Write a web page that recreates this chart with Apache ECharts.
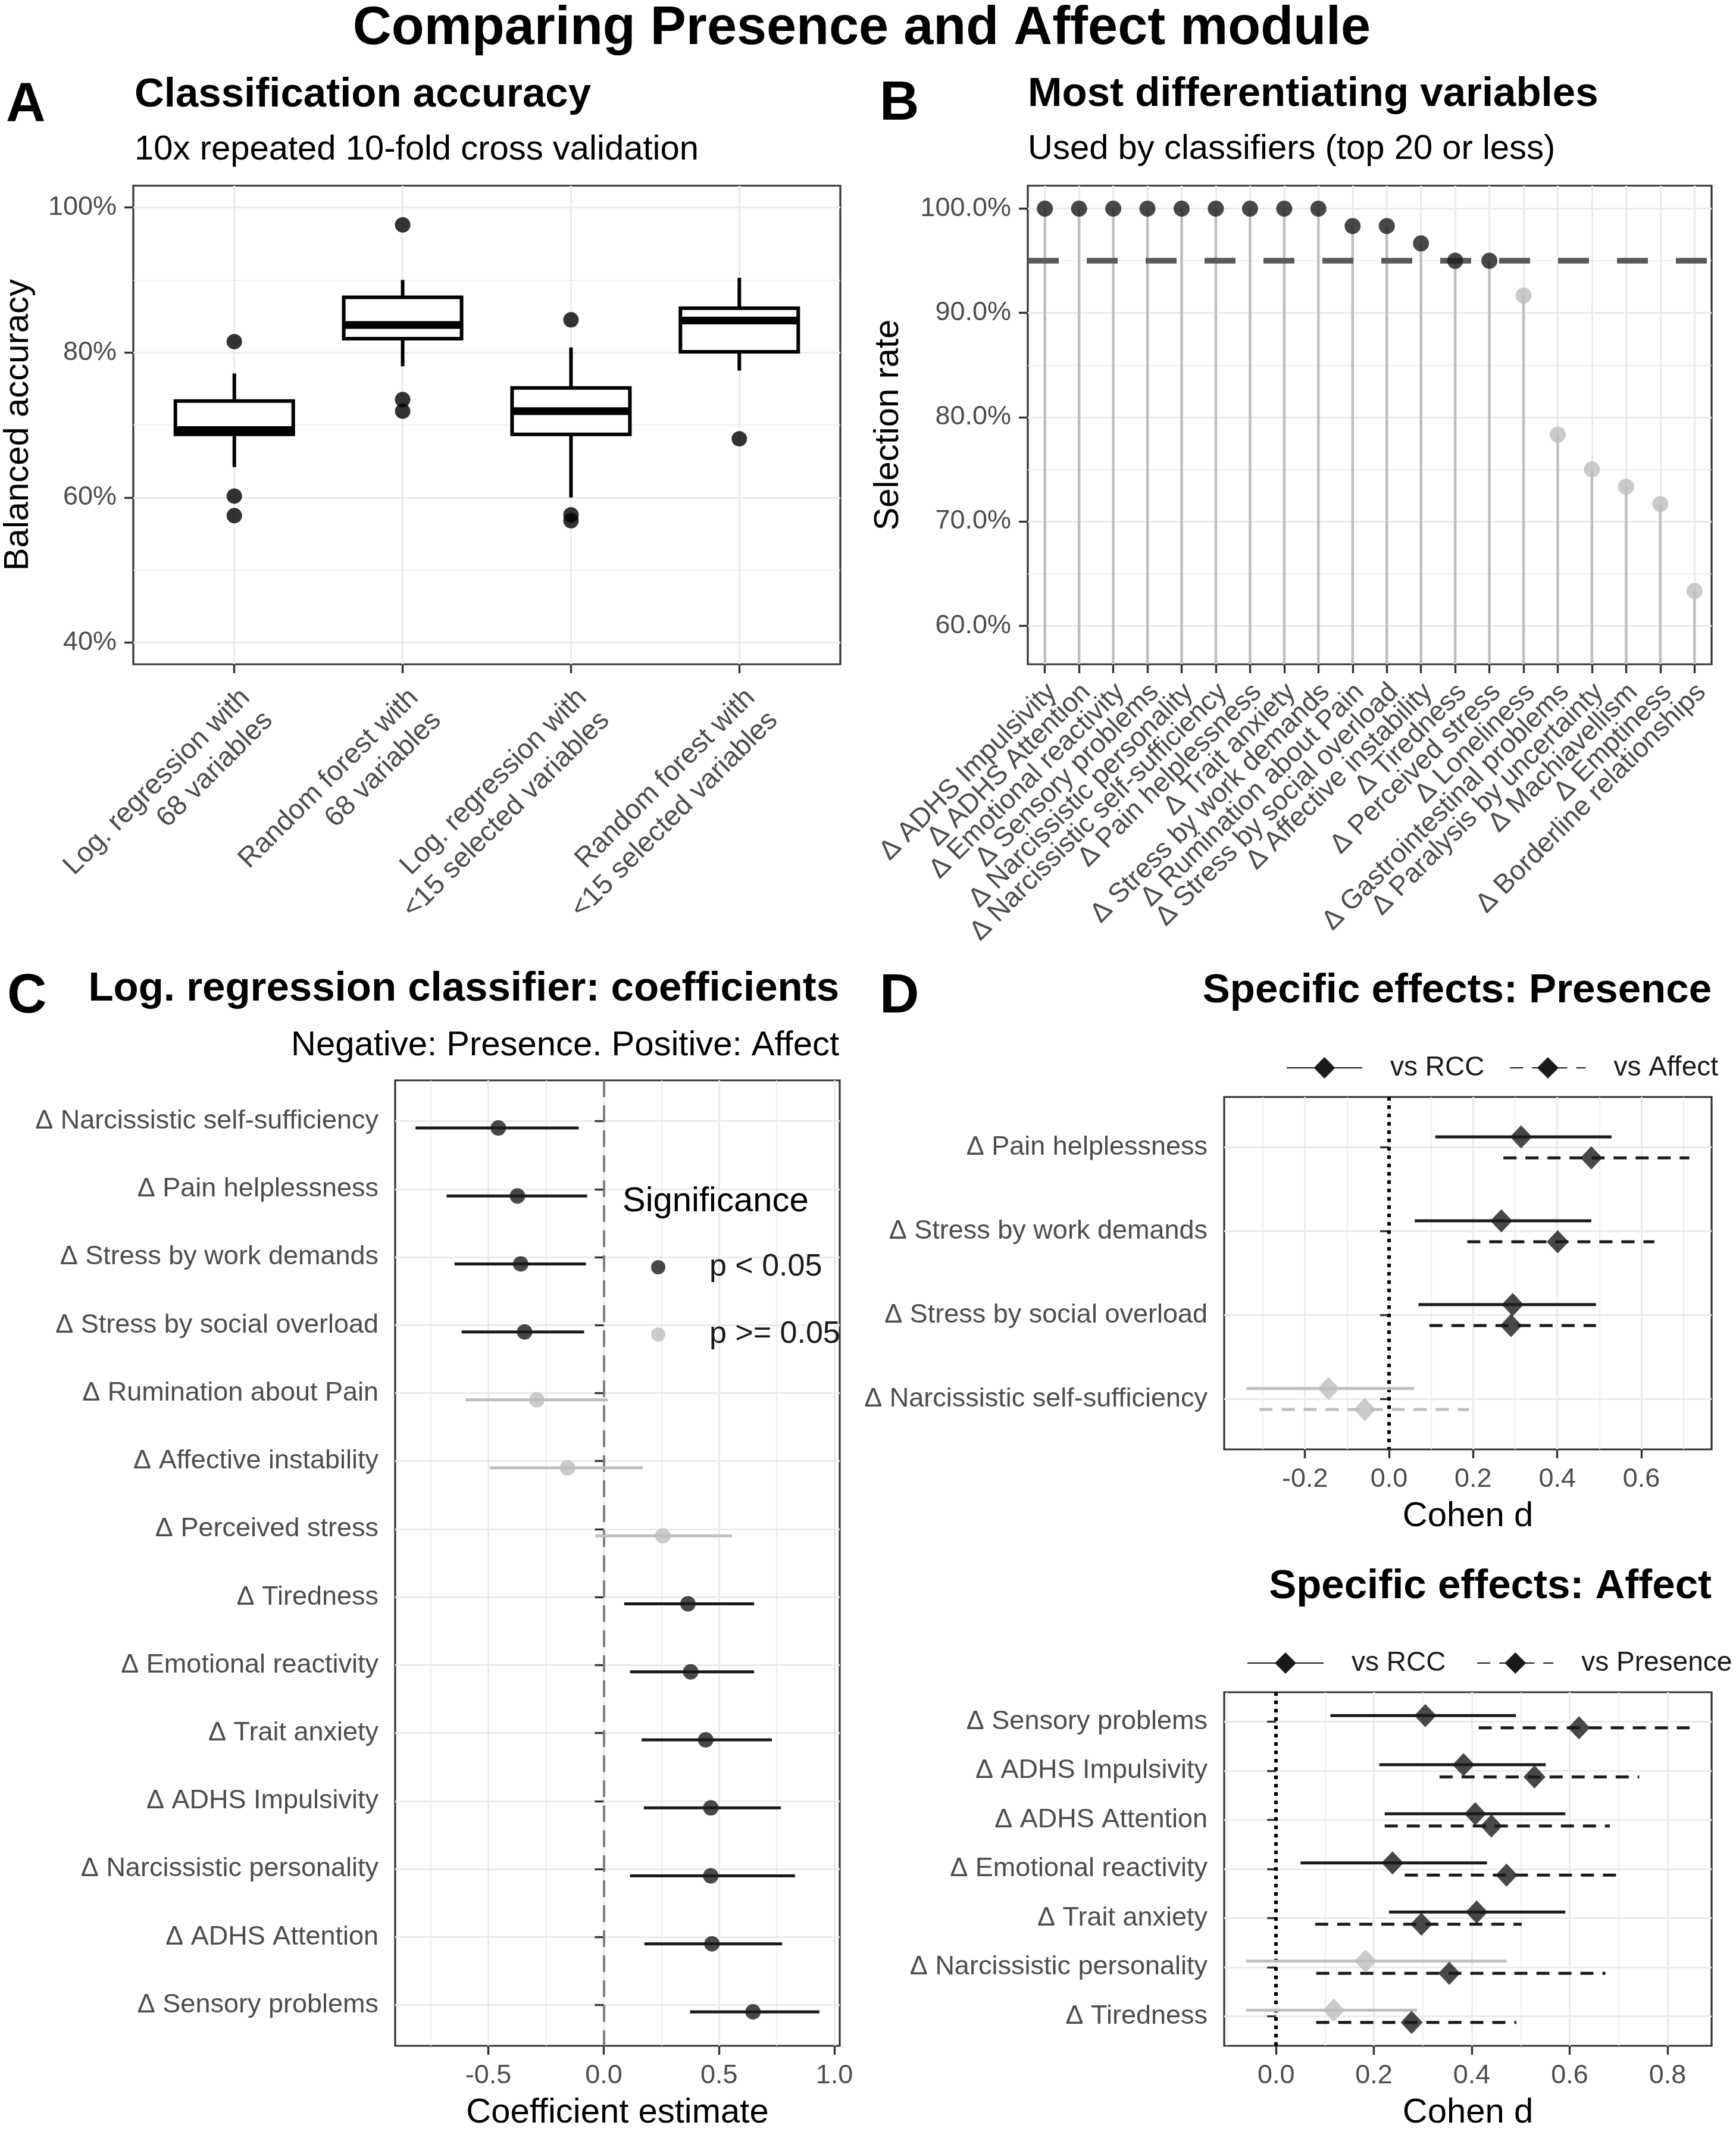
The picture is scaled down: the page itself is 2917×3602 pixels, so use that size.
<!DOCTYPE html>
<html><head><meta charset="utf-8">
<script src="https://cdn.jsdelivr.net/npm/echarts@6/dist/echarts.min.js"></script>
<style>html,body{margin:0;padding:0;background:#fff}#c{width:2917px;height:3602px}</style>
</head><body><div id="c"></div>
<script>
// ---------- Panel A: classification accuracy ----------
const catsA = ['Log. regression with\n68 variables', 'Random forest with\n68 variables',
  'Log. regression with\n<15 selected variables', 'Random forest with\n<15 selected variables'];
// [lower whisker, Q1, median, Q3, upper whisker]
const boxA1 = [64.2, 68.7, 69.3, 73.3, 77.1];
const boxA2 = [78.1, 81.9, 83.8, 87.6, 90.0];
const boxA3 = [60.0, 68.7, 71.9, 75.1, 80.7];
const boxA4 = [77.5, 80.1, 84.4, 86.1, 90.3];
// outliers: [category number, value]
const outliersA = [[1, 81.5], [1, 60.2], [1, 57.5], [2, 97.6], [2, 73.5], [2, 71.9],
  [3, 84.5], [3, 57.6], [3, 56.8], [4, 68.1]];
const ticksA = [40, 60, 80, 100];
const minorA = [50, 70, 90];

// ---------- Panel B: selection rate ----------
const catsB = ['Δ ADHS Impulsivity', 'Δ ADHS Attention', 'Δ Emotional reactivity', 'Δ Sensory problems',
  'Δ Narcissistic personality', 'Δ Narcissistic self-sufficiency', 'Δ Pain helplessness', 'Δ Trait anxiety',
  'Δ Stress by work demands', 'Δ Rumination about Pain', 'Δ Stress by social overload', 'Δ Affective instability',
  'Δ Tiredness', 'Δ Perceived stress', 'Δ Loneliness', 'Δ Gastrointestinal problems',
  'Δ Paralysis by uncertainty', 'Δ Machiavellism', 'Δ Emptiness', 'Δ Borderline relationships'];
const rateB = [100, 100, 100, 100, 100, 100, 100, 100, 100, 98.33, 98.33, 96.67, 95, 95,
  91.67, 78.33, 75, 73.33, 71.67, 63.33];
const thresholdB = 95;
const ticksB = [60, 70, 80, 90, 100];
const minorB = [65, 75, 85, 95];

// ---------- Panel C: logistic regression coefficients ----------
const catsC = ['Δ Narcissistic self-sufficiency', 'Δ Pain helplessness', 'Δ Stress by work demands',
  'Δ Stress by social overload', 'Δ Rumination about Pain', 'Δ Affective instability', 'Δ Perceived stress',
  'Δ Tiredness', 'Δ Emotional reactivity', 'Δ Trait anxiety', 'Δ ADHS Impulsivity',
  'Δ Narcissistic personality', 'Δ ADHS Attention', 'Δ Sensory problems'];
const estC  = [-0.457, -0.374, -0.360, -0.343, -0.290, -0.157, 0.256, 0.365, 0.377, 0.442, 0.464, 0.464, 0.469, 0.647];
const lowC  = [-0.816, -0.681, -0.647, -0.616, -0.599, -0.493, -0.036, 0.089, 0.114, 0.164, 0.174, 0.114, 0.176, 0.374];
const highC = [-0.109, -0.072, -0.077, -0.085, 0.017, 0.169, 0.556, 0.652, 0.652, 0.729, 0.768, 0.829, 0.773, 0.935];
const sigC  = [1, 1, 1, 1, 0, 0, 0, 1, 1, 1, 1, 1, 1, 1];
const ticksC = [-0.5, 0, 0.5, 1.0];
const minorC = [-0.75, -0.25, 0.25, 0.75];

// ---------- Panel D (top): specific effects Presence ----------
const catsD1 = ['Δ Pain helplessness', 'Δ Stress by work demands', 'Δ Stress by social overload', 'Δ Narcissistic self-sufficiency'];
const rccEstD1  = [0.314, 0.267, 0.294, -0.144];
const rccLowD1  = [0.110, 0.061, 0.070, -0.339];
const rccHighD1 = [0.529, 0.481, 0.492, 0.060];
const rccSigD1  = [1, 1, 1, 0];
const affEstD1  = [0.481, 0.401, 0.290, -0.058];
const affLowD1  = [0.272, 0.186, 0.096, -0.308];
const affHighD1 = [0.714, 0.631, 0.492, 0.190];
const affSigD1  = [1, 1, 1, 0];
const ticksD1 = [-0.2, 0, 0.2, 0.4, 0.6];
const minorD1 = [-0.3, -0.1, 0.1, 0.3, 0.5, 0.7];

// ---------- Panel D (bottom): specific effects Affect ----------
const catsD2 = ['Δ Sensory problems', 'Δ ADHS Impulsivity', 'Δ ADHS Attention', 'Δ Emotional reactivity',
  'Δ Trait anxiety', 'Δ Narcissistic personality', 'Δ Tiredness'];
const rccEstD2   = [0.305, 0.383, 0.407, 0.238, 0.410, 0.183, 0.118];
const rccLowD2   = [0.111, 0.211, 0.222, 0.050, 0.231, -0.061, -0.061];
const rccHighD2  = [0.490, 0.551, 0.591, 0.431, 0.591, 0.471, 0.288];
const rccSigD2   = [1, 1, 1, 1, 1, 0, 0];
const presEstD2  = [0.619, 0.528, 0.440, 0.471, 0.297, 0.354, 0.277];
const presLowD2  = [0.414, 0.334, 0.222, 0.263, 0.080, 0.082, 0.082];
const presHighD2 = [0.845, 0.742, 0.682, 0.696, 0.502, 0.673, 0.491];
const presSigD2  = [1, 1, 1, 1, 1, 1, 1];
const ticksD2 = [0, 0.2, 0.4, 0.6, 0.8];
const minorD2 = [-0.1, 0.1, 0.3, 0.5, 0.7];

// ---------- styling ----------
const FONT = '"Liberation Sans", Arial, Helvetica, sans-serif';
const DARK = '#1a1a1a', GRAY = '#bebebe';
const GRID_MAJOR = {color: '#ebebeb', width: 3};
const GRID_MINOR = {color: '#ebebeb', width: 1.6};
const TICK = {show: true, length: 15, lineStyle: {color: '#333333', width: 3.4}};
const LABEL = {color: '#4d4d4d', fontSize: 45, fontFamily: FONT};
const NAME = {color: '#000', fontSize: 58, fontFamily: FONT};
const range = n => Array.from({length: n}, (_, i) => i + 1);

function majorAxis(gridIndex, min, max, ticks, fmt, extra) {
  return Object.assign({
    type: 'value', gridIndex, min, max,
    axisLine: {show: false},
    axisTick: Object.assign({customValues: ticks}, TICK),
    axisLabel: Object.assign({customValues: ticks, formatter: fmt, margin: 28, showMinLabel: true, showMaxLabel: true}, LABEL),
    splitLine: {show: true, lineStyle: GRID_MAJOR},
    minorSplitLine: {show: false}
  }, extra || {});
}
function minorAxis(gridIndex, min, max, ticks, style) {
  return {
    type: 'value', gridIndex, min, max,
    axisLine: {show: false},
    axisTick: {show: false, customValues: ticks},
    axisLabel: {show: false},
    splitLine: {show: true, lineStyle: style || GRID_MINOR}
  };
}
const gridStyle = {show: true, borderColor: '#333333', borderWidth: 3.2, backgroundColor: 'transparent', containLabel: false};

function errRender(dash, lw) {
  return function (params, api) {
    const y = api.value(2);
    const a = api.coord([api.value(0), y]);
    const b = api.coord([api.value(1), y]);
    return {type: 'line', shape: {x1: a[0], y1: a[1], x2: b[0], y2: b[1]},
      style: {stroke: api.value(3) ? DARK : GRAY, lineWidth: lw, lineDash: dash}};
  };
}
function errData(low, high, offset, sig) {
  return low.map((v, i) => [v, high[i], i + 1 + offset, sig[i]]);
}
function ptData(est, offset) { return est.map((v, i) => [v, i + 1 + offset]); }

const boxesA = [boxA1, boxA2, boxA3, boxA4];
const DASH_D = [22, 15];

const option = {
  animation: false,
  backgroundColor: '#fff',
  textStyle: {fontFamily: FONT},
  grid: [
    Object.assign({left: 224, top: 312, width: 1188, height: 804}, gridStyle),   // A
    Object.assign({left: 1727, top: 312, width: 1149, height: 804}, gridStyle),  // B
    Object.assign({left: 664, top: 1815, width: 747, height: 1622}, gridStyle),  // C
    Object.assign({left: 2057, top: 1843, width: 819, height: 592}, gridStyle),  // D top
    Object.assign({left: 2057, top: 2843, width: 819, height: 594}, gridStyle)   // D bottom
  ],
  xAxis: [
    majorAxis(0, 0.4, 4.6, range(4), null,
      {axisLabel: Object.assign({customValues: range(4), formatter: v => catsA[Math.round(v) - 1], rotate: 45,
        margin: 30, lineHeight: 54, align: 'right', verticalAlign: 'top', showMinLabel: true, showMaxLabel: true}, LABEL, {fontSize: 47})}),
    // B: category axis carries the labels and ticks (all labels forced)
    {type: 'category', gridIndex: 1, data: catsB, boundaryGap: true,
      axisLine: {show: false},
      axisTick: Object.assign({alignWithLabel: true, interval: 0}, TICK),
      axisLabel: Object.assign({interval: 0, rotate: 45, margin: 28, lineHeight: 34, align: 'right', verticalAlign: 'top'}, LABEL, {fontSize: 46}),
      splitLine: {show: false}},
    majorAxis(2, -0.904, 1.023, ticksC, v => v.toFixed(1), {name: 'Coefficient estimate', nameLocation: 'middle', nameGap: 84, nameTextStyle: NAME}),
    minorAxis(2, -0.904, 1.023, minorC),
    majorAxis(3, -0.392, 0.767, ticksD1, v => v.toFixed(1), {name: 'Cohen d', nameLocation: 'middle', nameGap: 84, nameTextStyle: NAME}),
    minorAxis(3, -0.392, 0.767, minorD1),
    majorAxis(4, -0.106, 0.890, ticksD2, v => v.toFixed(1), {name: 'Cohen d', nameLocation: 'middle', nameGap: 84, nameTextStyle: NAME}),
    minorAxis(4, -0.106, 0.890, minorD2),
    // B: vertical major gridlines at each category centre
    minorAxis(1, 0.5, catsB.length + 0.5, range(catsB.length), GRID_MAJOR)
  ],
  yAxis: [
    majorAxis(0, 37, 103, ticksA, v => v + '%', {name: 'Balanced accuracy', nameLocation: 'middle', nameGap: 164, nameTextStyle: NAME}),
    minorAxis(0, 37, 103, minorA),
    majorAxis(1, 56.3, 102.2, ticksB, v => v.toFixed(1) + '%', {name: 'Selection rate', nameLocation: 'middle', nameGap: 205, nameTextStyle: NAME}),
    minorAxis(1, 56.3, 102.2, minorB),
    majorAxis(2, 0.4, catsC.length + 0.6, range(catsC.length), v => catsC[Math.round(v) - 1], {inverse: true}),
    majorAxis(3, 0.4, catsD1.length + 0.6, range(catsD1.length), v => catsD1[Math.round(v) - 1], {inverse: true}),
    majorAxis(4, 0.4, catsD2.length + 0.6, range(catsD2.length), v => catsD2[Math.round(v) - 1], {inverse: true})
  ],
  legend: [
    {left: 1089, top: 2098, orient: 'vertical', selectedMode: false, itemWidth: 24, itemHeight: 52, itemGap: 61,
      data: [{name: 'p < 0.05', icon: 'circle'}, {name: 'p >= 0.05', icon: 'circle'}],
      textStyle: {fontSize: 52, color: '#1a1a1a', fontFamily: FONT, lineHeight: 52, padding: [0, 0, 0, 69]}},
    {left: 2156, top: 1766, width: 1000, orient: 'horizontal', selectedMode: false, itemWidth: 127, itemHeight: 45, itemGap: 42,
      data: ['vs RCC', 'vs Affect'],
      textStyle: {fontSize: 46, color: '#1a1a1a', fontFamily: FONT, padding: [0, 0, 0, 42]}},
    {left: 2090, top: 2766, width: 1000, orient: 'horizontal', selectedMode: false, itemWidth: 128, itemHeight: 45, itemGap: 39,
      data: ['vs RCC ', 'vs Presence'],
      textStyle: {fontSize: 46, color: '#1a1a1a', fontFamily: FONT, padding: [0, 0, 0, 42]}}
  ],
  graphic: [],
  series: [
    // ----- A -----
    {type: 'custom', name: 'boxes', xAxisIndex: 0, yAxisIndex: 0,
      data: boxesA.map((b, i) => [i + 1].concat(b)),
      encode: {x: 0, y: [1, 2, 3, 4, 5]},
      renderItem: function (params, api) {
        const x = api.value(0), half = 0.35;
        const lo = api.value(1), q1 = api.value(2), md = api.value(3), q3 = api.value(4), hi = api.value(5);
        const tl = api.coord([x - half, q3]), br = api.coord([x + half, q1]);
        const top = api.coord([x, hi]), bot = api.coord([x, lo]);
        const mL = api.coord([x - half, md]), mR = api.coord([x + half, md]);
        const st = {stroke: '#000', lineWidth: 6};
        return {type: 'group', children: [
          {type: 'line', shape: {x1: top[0], y1: top[1], x2: top[0], y2: tl[1]}, style: st},
          {type: 'line', shape: {x1: bot[0], y1: br[1], x2: bot[0], y2: bot[1]}, style: st},
          {type: 'rect', shape: {x: tl[0], y: tl[1], width: br[0] - tl[0], height: br[1] - tl[1]},
            style: {fill: '#fff', stroke: '#000', lineWidth: 6}},
          {type: 'line', shape: {x1: mL[0], y1: mL[1], x2: mR[0], y2: mR[1]}, style: {stroke: '#000', lineWidth: 13}}
        ]};
      }},
    {type: 'scatter', name: 'outliers', xAxisIndex: 0, yAxisIndex: 0, data: outliersA,
      symbol: 'circle', symbolSize: 26, itemStyle: {color: '#000'}},
    // ----- B -----
    {type: 'custom', name: 'stems', xAxisIndex: 1, yAxisIndex: 2, clip: true, z: 2,
      data: rateB.map((v, i) => [i, v]),
      encode: {x: 0, y: 1},
      renderItem: function (params, api) {
        const a = api.coord([api.value(0), api.value(1)]);
        const b = api.coord([api.value(0), 0]);
        return {type: 'line', shape: {x1: a[0], y1: a[1], x2: b[0], y2: b[1]}, style: {stroke: GRAY, lineWidth: 4.5}};
      }},
    {type: 'scatter', name: 'rate', xAxisIndex: 1, yAxisIndex: 2, z: 4,
      data: rateB.map((v, i) => [catsB[i], v]), symbolSize: 27,
      itemStyle: {color: p => rateB[p.dataIndex] >= thresholdB ? DARK : GRAY},
      markLine: {silent: true, symbol: 'none', z: 3, label: {show: false},
        lineStyle: {color: '#5a5a5a', width: 9.5, type: [52, 47]}, data: [{yAxis: thresholdB}]}},
    // ----- C -----
    {type: 'custom', name: 'ciC', xAxisIndex: 2, yAxisIndex: 4, data: errData(lowC, highC, 0.1, sigC),
      encode: {x: [0, 1], y: 2}, renderItem: errRender(null, 5)},
    {type: 'scatter', name: 'p < 0.05', xAxisIndex: 2, yAxisIndex: 4, symbolSize: 26, itemStyle: {color: DARK},
      data: ptData(estC, 0.1).filter((d, i) => sigC[i]),
      markLine: {silent: true, symbol: 'none', label: {show: false}, z: 1,
        lineStyle: {color: '#7f7f7f', width: 4, type: [28, 14]}, data: [{xAxis: 0}]}},
    {type: 'scatter', name: 'p >= 0.05', xAxisIndex: 2, yAxisIndex: 4, symbolSize: 26, itemStyle: {color: GRAY},
      data: ptData(estC, 0.1).filter((d, i) => !sigC[i])},
    // ----- D top -----
    {type: 'custom', name: 'ciD1rcc', xAxisIndex: 4, yAxisIndex: 5, data: errData(rccLowD1, rccHighD1, -0.125, rccSigD1),
      encode: {x: [0, 1], y: 2}, renderItem: errRender(null, 5)},
    {type: 'custom', name: 'ciD1aff', xAxisIndex: 4, yAxisIndex: 5, data: errData(affLowD1, affHighD1, 0.125, affSigD1),
      encode: {x: [0, 1], y: 2}, renderItem: errRender(DASH_D, 5)},
    {type: 'scatter', name: 'ptD1rcc', xAxisIndex: 4, yAxisIndex: 5, symbol: 'diamond', symbolSize: [37, 39], z: 4,
      data: ptData(rccEstD1, -0.125), itemStyle: {color: p => rccSigD1[p.dataIndex] ? DARK : GRAY},
      markLine: {silent: true, symbol: 'none', label: {show: false}, z: 1,
        lineStyle: {color: '#000', width: 6, type: [6, 8]}, data: [{xAxis: 0}]}},
    {type: 'scatter', name: 'ptD1aff', xAxisIndex: 4, yAxisIndex: 5, symbol: 'diamond', symbolSize: [37, 39], z: 4,
      data: ptData(affEstD1, 0.125), itemStyle: {color: p => affSigD1[p.dataIndex] ? DARK : GRAY}},
    {type: 'line', name: 'vs RCC', xAxisIndex: 4, yAxisIndex: 5, data: [], symbol: 'diamond',
      itemStyle: {color: DARK}, lineStyle: {color: DARK, width: 5, type: 'solid'}},
    {type: 'line', name: 'vs Affect', xAxisIndex: 4, yAxisIndex: 5, data: [], symbol: 'diamond',
      itemStyle: {color: DARK}, lineStyle: {color: DARK, width: 5, type: DASH_D}},
    // ----- D bottom -----
    {type: 'custom', name: 'ciD2rcc', xAxisIndex: 6, yAxisIndex: 6, data: errData(rccLowD2, rccHighD2, -0.125, rccSigD2),
      encode: {x: [0, 1], y: 2}, renderItem: errRender(null, 5)},
    {type: 'custom', name: 'ciD2pres', xAxisIndex: 6, yAxisIndex: 6, data: errData(presLowD2, presHighD2, 0.125, presSigD2),
      encode: {x: [0, 1], y: 2}, renderItem: errRender(DASH_D, 5)},
    {type: 'scatter', name: 'ptD2rcc', xAxisIndex: 6, yAxisIndex: 6, symbol: 'diamond', symbolSize: [37, 39], z: 4,
      data: ptData(rccEstD2, -0.125), itemStyle: {color: p => rccSigD2[p.dataIndex] ? DARK : GRAY},
      markLine: {silent: true, symbol: 'none', label: {show: false}, z: 1,
        lineStyle: {color: '#000', width: 6, type: [6, 8]}, data: [{xAxis: 0}]}},
    {type: 'scatter', name: 'ptD2pres', xAxisIndex: 6, yAxisIndex: 6, symbol: 'diamond', symbolSize: [37, 39], z: 4,
      data: ptData(presEstD2, 0.125), itemStyle: {color: p => presSigD2[p.dataIndex] ? DARK : GRAY}},
    {type: 'line', name: 'vs RCC ', xAxisIndex: 6, yAxisIndex: 6, data: [], symbol: 'diamond',
      itemStyle: {color: DARK}, lineStyle: {color: DARK, width: 5, type: 'solid'}},
    {type: 'line', name: 'vs Presence', xAxisIndex: 6, yAxisIndex: 6, data: [], symbol: 'diamond',
      itemStyle: {color: DARK}, lineStyle: {color: DARK, width: 5, type: DASH_D}}
  ]
};

function txt(x, y, text, size, weight, align) {
  return {type: 'text', x: x, y: y, z: 10,
    style: {text: text, font: weight + ' ' + size + 'px ' + FONT, fill: '#000',
      align: align, verticalAlign: 'middle', textAlign: align, textVerticalAlign: 'middle'}};
}
option.graphic = [
  txt(1448, 49, 'Comparing Presence and Affect module', 90, 'bold', 'center'),
  txt(10, 178, 'A', 92, 'bold', 'left'),
  txt(226, 160, 'Classification accuracy', 69, 'bold', 'left'),
  txt(226, 252, '10x repeated 10-fold cross validation', 58, 'normal', 'left'),
  txt(1478, 176, 'B', 92, 'bold', 'left'),
  txt(1727, 159, 'Most differentiating variables', 69, 'bold', 'left'),
  txt(1727, 251, 'Used by classifiers (top 20 or less)', 58, 'normal', 'left'),
  txt(12, 1676, 'C', 92, 'bold', 'left'),
  txt(1410, 1662, 'Log. regression classifier: coefficients', 69, 'bold', 'right'),
  txt(1410, 1757, 'Negative: Presence. Positive: Affect', 58, 'normal', 'right'),
  txt(1046, 2019, 'Significance', 58, 'normal', 'left'),
  txt(1478, 1676, 'D', 92, 'bold', 'left'),
  txt(2876, 1665, 'Specific effects: Presence', 69, 'bold', 'right'),
  txt(2876, 2666, 'Specific effects: Affect', 69, 'bold', 'right')
];

const chart = echarts.init(document.getElementById('c'), null, {renderer: 'canvas'});
chart.setOption(option);
</script>
</body></html>
